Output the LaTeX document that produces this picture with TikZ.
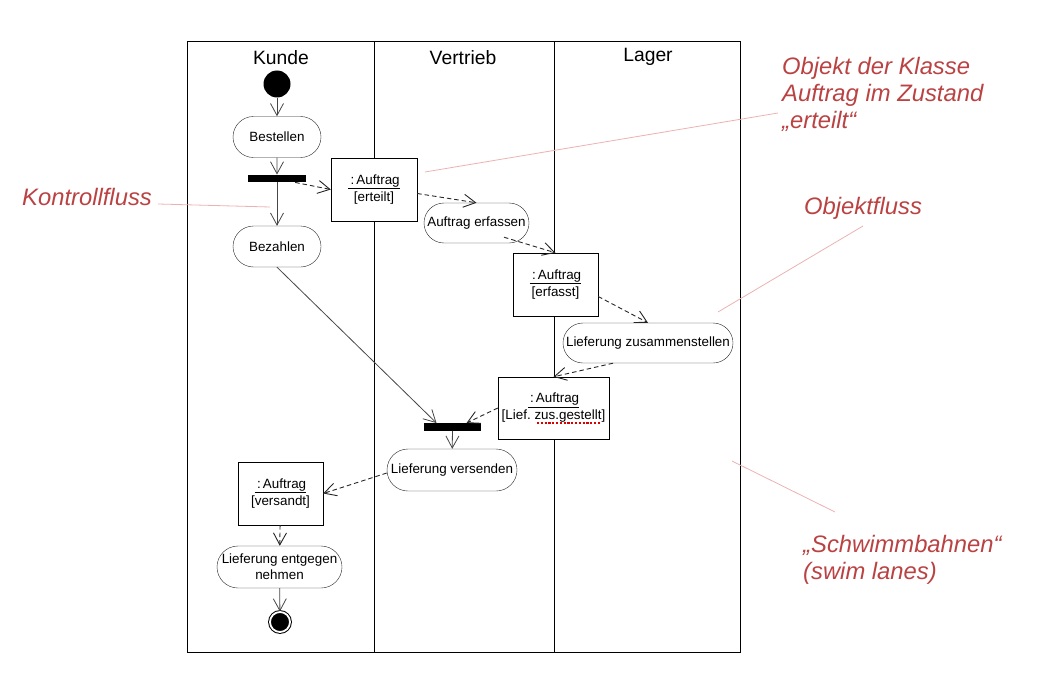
\documentclass[tikz,border=0pt]{standalone}
\usepackage{fontspec}
\setmainfont{Liberation Sans}
\frenchspacing
\usetikzlibrary{arrows.meta,shapes.misc}
\definecolor{annot}{RGB}{186,66,66}
\definecolor{leader}{RGB}{236,178,178}
\definecolor{flowgray}{RGB}{70,70,70}
\tikzset{
  lane/.style={draw=black, line width=0.9pt},
  lanehead/.style={font=\fontsize{19.3}{21}\selectfont, inner sep=0pt},
  action/.style={rounded rectangle, draw=black!85, fill=white, minimum height=41pt, inner sep=0pt, align=center, font=\fontsize{13.4}{16}\selectfont},
  objbox/.style={draw=black, fill=white, minimum height=63pt, inner sep=0pt, align=center, font=\fontsize{13.4}{17}\selectfont},
  syncbar/.style={fill=black, minimum width=58pt, minimum height=7.5pt, inner sep=0pt},
  ctrl/.style={draw=flowgray, line width=0.8pt, -{Straight Barb[length=12pt,width=13pt]}},
  oflow/.style={draw=black!85, line width=0.9pt, dash pattern=on 4.5pt off 3pt, -{Straight Barb[length=12pt,width=13pt]}},
  note/.style={text=annot, font=\fontsize{23.8}{27}\selectfont\itshape, inner sep=0pt, align=left},
  leaderline/.style={draw=leader, line width=0.8pt},
}
\newcommand{\objname}{\underline{\,:\,Auftrag}}
\begin{document}
\begin{tikzpicture}[x=1pt,y=-1pt]
\useasboundingbox (0,0) rectangle (1044,690);
% swim lanes
\draw[lane] (187,41) rectangle (740,652);
\draw[lane] (374,41) -- (374,652);
\draw[lane] (554,41) -- (554,652);
\node[lanehead] (hK) at (281,58) {Kunde};
\node[lanehead] (hV) at (463,58) {Vertrieb};
\node[lanehead] (hL) at (648,57) {Lager};

% nodes
\node[circle, fill=black, minimum size=27pt, inner sep=0pt] (start) at (277,84) {};
\node[action, minimum width=88pt] (bestellen) at (277,137) {Bestellen};
\node[syncbar] (bar1) at (277,178.5) {};
\node[action, minimum width=88pt] (bezahlen) at (277,246.5) {Bezahlen};
\node[objbox, minimum width=86pt] (erteilt) at (374,189.5) {\objname\\{}{[erteilt]}};
\node[action, minimum width=105pt, minimum height=40pt] (erfassen) at (476.5,223) {Auftrag erfassen};
\node[objbox, minimum width=85pt] (erfasst) at (555.5,284.5) {\objname\\{}{[erfasst]}};
\node[action, minimum width=170pt, minimum height=40pt] (zus) at (648,343) {Lieferung zusammenstellen};
\node[objbox, minimum width=111pt, minimum height=62pt] (lief) at (553.5,408) {\objname\\{}{[Lief. zus.gestellt]}};
\node[syncbar, minimum width=57pt] (bar2) at (452.5,427) {};
\node[action, minimum width=130pt, minimum height=42pt] (versenden) at (452,470) {Lieferung versenden};
\node[objbox, minimum width=85pt] (versandt) at (280.5,493.5) {\objname\\{}{[versandt]}};
\node[action, minimum width=125pt, minimum height=42pt] (entgegen) at (279.5,567) {Lieferung entgegen\\nehmen};
\node[circle, fill=black, draw=black, line width=1pt, double=white, double distance=1.8pt, minimum size=20pt, inner sep=0pt] (end) at (280,622) {};

% spelling mark
\draw[draw=red!85!black, line width=1.2pt, dash pattern=on 2.2pt off 1.6pt] (537,423) -- (601,423);

% control flows
\draw[ctrl] (start) -- (bestellen);
\draw[ctrl] (bestellen) -- (bar1);
\draw[ctrl] (bar1) -- (bezahlen);
\draw[ctrl] (bezahlen.south) -- ([xshift=-16pt]bar2.north);
\draw[ctrl] (bar2) -- (versenden);
\draw[ctrl] (entgegen) -- (end);

% object flows
\draw[oflow] ([xshift=-11pt]bar1.south east) -- (erteilt.west);
\draw[oflow] ([yshift=-4pt]erteilt.east) -- (erfassen.north);
\draw[oflow] ([xshift=-5pt,yshift=6pt]erfassen.south east) -- (erfasst.north);
\draw[oflow] ([yshift=-12pt]erfasst.east) -- (zus.north);
\draw[oflow] ([xshift=-35pt]zus.south) -- (lief.north);
\draw[oflow] (lief.west) -- ([xshift=14pt]bar2.north);
\draw[oflow] ([yshift=-3pt]versenden.west) -- (versandt.east);
\draw[oflow] (versandt) -- (entgegen);

% annotations
\node[note, anchor=base west] (nKontroll) at (22,205) {Kontrollfluss};
\node[note, anchor=north west] (nObjekt) at (782,57) {Objekt der Klasse\\Auftrag im Zustand\\„erteilt“};
\node[note, anchor=base west] (nFluss) at (804,214) {Objektfluss};
\node[note, anchor=north west] (nLanes) at (803,535) {„Schwimmbahnen“\\(swim lanes)};
\coordinate (lKa) at (158,204);
\coordinate (lKb) at (270,207);
\coordinate (lOa) at (778,113);
\coordinate (lOb) at (425,172);
\coordinate (lFa) at (863,226);
\coordinate (lFb) at (718,312);
\coordinate (lLa) at (732,461);
\coordinate (lLb) at (835,512);
\draw[leaderline] (lKa) -- (lKb);
\draw[leaderline] (lOa) -- (lOb);
\draw[leaderline] (lFa) -- (lFb);
\draw[leaderline] (lLa) -- (lLb);
\end{tikzpicture}
\end{document}
